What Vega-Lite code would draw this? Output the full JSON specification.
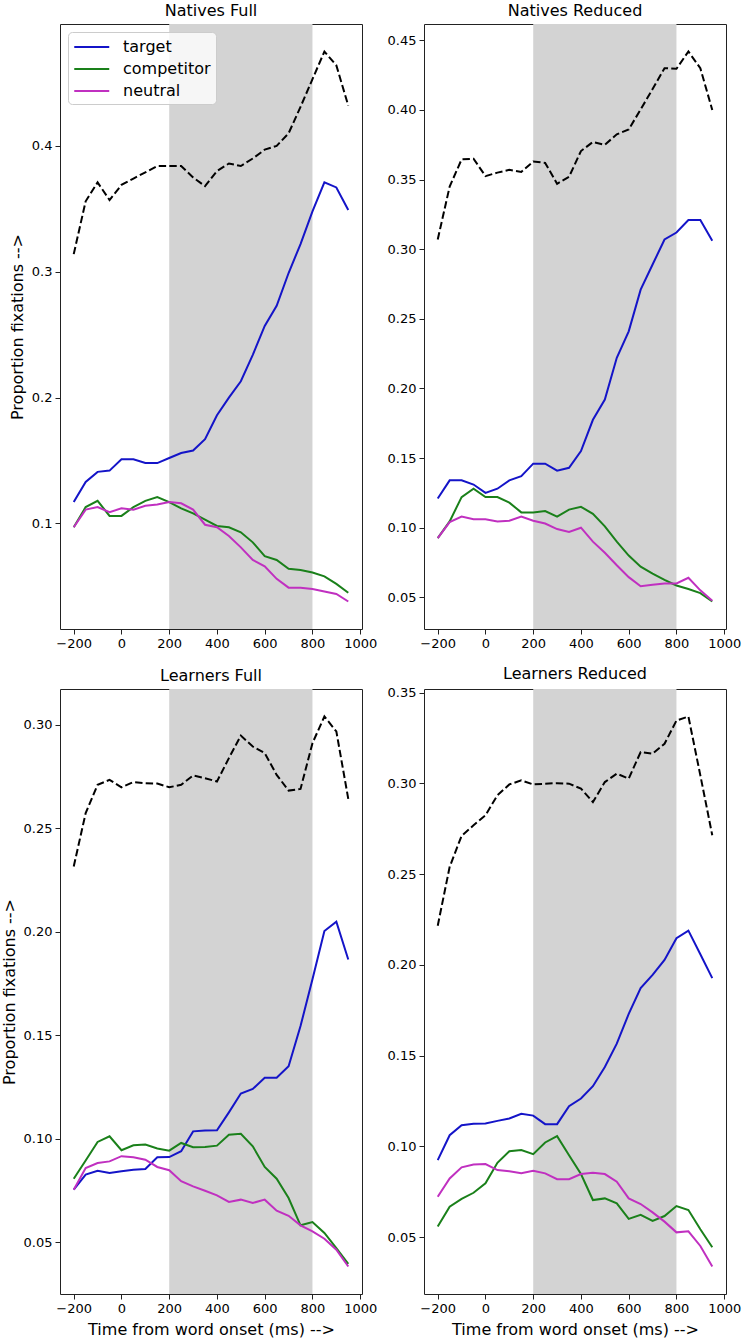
{
  "$schema": "https://vega.github.io/schema/vega-lite/v6.json",
  "background": "white",
  "padding": {"left": 0, "top": 2, "right": 2, "bottom": 2},
  "datasets": {
    "fix": [
      {"panel": "NF", "t": -200, "target": 0.117, "competitor": 0.097, "neutral": 0.097, "total": 0.314},
      {"panel": "NF", "t": -150, "target": 0.133, "competitor": 0.113, "neutral": 0.111, "total": 0.356},
      {"panel": "NF", "t": -100, "target": 0.141, "competitor": 0.118, "neutral": 0.113, "total": 0.371},
      {"panel": "NF", "t": -50, "target": 0.142, "competitor": 0.106, "neutral": 0.109, "total": 0.357},
      {"panel": "NF", "t": 0, "target": 0.151, "competitor": 0.106, "neutral": 0.112, "total": 0.369},
      {"panel": "NF", "t": 50, "target": 0.151, "competitor": 0.113, "neutral": 0.111, "total": 0.374},
      {"panel": "NF", "t": 100, "target": 0.148, "competitor": 0.118, "neutral": 0.114, "total": 0.379},
      {"panel": "NF", "t": 150, "target": 0.148, "competitor": 0.121, "neutral": 0.115, "total": 0.384},
      {"panel": "NF", "t": 200, "target": 0.152, "competitor": 0.117, "neutral": 0.117, "total": 0.384},
      {"panel": "NF", "t": 250, "target": 0.156, "competitor": 0.112, "neutral": 0.116, "total": 0.384},
      {"panel": "NF", "t": 300, "target": 0.158, "competitor": 0.108, "neutral": 0.111, "total": 0.375},
      {"panel": "NF", "t": 350, "target": 0.167, "competitor": 0.103, "neutral": 0.099, "total": 0.368},
      {"panel": "NF", "t": 400, "target": 0.186, "competitor": 0.098, "neutral": 0.097, "total": 0.380},
      {"panel": "NF", "t": 450, "target": 0.200, "competitor": 0.097, "neutral": 0.090, "total": 0.386},
      {"panel": "NF", "t": 500, "target": 0.213, "competitor": 0.093, "neutral": 0.081, "total": 0.384},
      {"panel": "NF", "t": 550, "target": 0.234, "competitor": 0.085, "neutral": 0.071, "total": 0.390},
      {"panel": "NF", "t": 600, "target": 0.257, "competitor": 0.074, "neutral": 0.066, "total": 0.397},
      {"panel": "NF", "t": 650, "target": 0.273, "competitor": 0.071, "neutral": 0.056, "total": 0.400},
      {"panel": "NF", "t": 700, "target": 0.299, "competitor": 0.064, "neutral": 0.049, "total": 0.410},
      {"panel": "NF", "t": 750, "target": 0.322, "competitor": 0.063, "neutral": 0.049, "total": 0.431},
      {"panel": "NF", "t": 800, "target": 0.348, "competitor": 0.061, "neutral": 0.048, "total": 0.453},
      {"panel": "NF", "t": 850, "target": 0.371, "competitor": 0.058, "neutral": 0.046, "total": 0.475},
      {"panel": "NF", "t": 900, "target": 0.367, "competitor": 0.052, "neutral": 0.044, "total": 0.464},
      {"panel": "NF", "t": 950, "target": 0.349, "competitor": 0.045, "neutral": 0.038, "total": 0.432},

      {"panel": "NR", "t": -200, "target": 0.121, "competitor": 0.0925, "neutral": 0.0925, "total": 0.307},
      {"panel": "NR", "t": -150, "target": 0.134, "competitor": 0.1045, "neutral": 0.104, "total": 0.345},
      {"panel": "NR", "t": -100, "target": 0.134, "competitor": 0.122, "neutral": 0.108, "total": 0.3645},
      {"panel": "NR", "t": -50, "target": 0.131, "competitor": 0.128, "neutral": 0.106, "total": 0.365},
      {"panel": "NR", "t": 0, "target": 0.125, "competitor": 0.122, "neutral": 0.106, "total": 0.3525},
      {"panel": "NR", "t": 50, "target": 0.128, "competitor": 0.122, "neutral": 0.1045, "total": 0.355},
      {"panel": "NR", "t": 100, "target": 0.134, "competitor": 0.118, "neutral": 0.105, "total": 0.357},
      {"panel": "NR", "t": 150, "target": 0.137, "competitor": 0.111, "neutral": 0.108, "total": 0.3555},
      {"panel": "NR", "t": 200, "target": 0.146, "competitor": 0.111, "neutral": 0.105, "total": 0.363},
      {"panel": "NR", "t": 250, "target": 0.146, "competitor": 0.112, "neutral": 0.103, "total": 0.362},
      {"panel": "NR", "t": 300, "target": 0.141, "competitor": 0.108, "neutral": 0.099, "total": 0.347},
      {"panel": "NR", "t": 350, "target": 0.143, "competitor": 0.113, "neutral": 0.097, "total": 0.352},
      {"panel": "NR", "t": 400, "target": 0.155, "competitor": 0.115, "neutral": 0.100, "total": 0.3705},
      {"panel": "NR", "t": 450, "target": 0.1775, "competitor": 0.110, "neutral": 0.090, "total": 0.377},
      {"panel": "NR", "t": 500, "target": 0.192, "competitor": 0.101, "neutral": 0.082, "total": 0.375},
      {"panel": "NR", "t": 550, "target": 0.222, "competitor": 0.090, "neutral": 0.073, "total": 0.3825},
      {"panel": "NR", "t": 600, "target": 0.241, "competitor": 0.080, "neutral": 0.0645, "total": 0.386},
      {"panel": "NR", "t": 650, "target": 0.271, "competitor": 0.072, "neutral": 0.058, "total": 0.4004},
      {"panel": "NR", "t": 700, "target": 0.289, "competitor": 0.067, "neutral": 0.059, "total": 0.415},
      {"panel": "NR", "t": 750, "target": 0.307, "competitor": 0.0625, "neutral": 0.060, "total": 0.430},
      {"panel": "NR", "t": 800, "target": 0.312, "competitor": 0.0585, "neutral": 0.060, "total": 0.4296},
      {"panel": "NR", "t": 850, "target": 0.321, "competitor": 0.056, "neutral": 0.064, "total": 0.442},
      {"panel": "NR", "t": 900, "target": 0.321, "competitor": 0.053, "neutral": 0.055, "total": 0.430},
      {"panel": "NR", "t": 950, "target": 0.306, "competitor": 0.047, "neutral": 0.0475, "total": 0.400},

      {"panel": "LF", "t": -200, "target": 0.0753, "competitor": 0.0806, "neutral": 0.0753, "total": 0.2315},
      {"panel": "LF", "t": -150, "target": 0.0826, "competitor": 0.0894, "neutral": 0.0858, "total": 0.2573},
      {"panel": "LF", "t": -100, "target": 0.0845, "competitor": 0.0984, "neutral": 0.0882, "total": 0.271},
      {"panel": "LF", "t": -50, "target": 0.0834, "competitor": 0.1011, "neutral": 0.089, "total": 0.2734},
      {"panel": "LF", "t": 0, "target": 0.0842, "competitor": 0.0944, "neutral": 0.0915, "total": 0.2698},
      {"panel": "LF", "t": 50, "target": 0.085, "competitor": 0.0968, "neutral": 0.091, "total": 0.2723},
      {"panel": "LF", "t": 100, "target": 0.0853, "competitor": 0.0971, "neutral": 0.0898, "total": 0.2718},
      {"panel": "LF", "t": 150, "target": 0.091, "competitor": 0.0952, "neutral": 0.0863, "total": 0.2716},
      {"panel": "LF", "t": 200, "target": 0.0911, "competitor": 0.0942, "neutral": 0.0847, "total": 0.2698},
      {"panel": "LF", "t": 250, "target": 0.0939, "competitor": 0.0979, "neutral": 0.0794, "total": 0.271},
      {"panel": "LF", "t": 300, "target": 0.1035, "competitor": 0.0958, "neutral": 0.0769, "total": 0.2755},
      {"panel": "LF", "t": 350, "target": 0.1039, "competitor": 0.096, "neutral": 0.0748, "total": 0.2742},
      {"panel": "LF", "t": 400, "target": 0.104, "competitor": 0.0966, "neutral": 0.0726, "total": 0.2726},
      {"panel": "LF", "t": 450, "target": 0.1127, "competitor": 0.1019, "neutral": 0.0694, "total": 0.2839},
      {"panel": "LF", "t": 500, "target": 0.1218, "competitor": 0.1023, "neutral": 0.0705, "total": 0.2948},
      {"panel": "LF", "t": 550, "target": 0.124, "competitor": 0.0963, "neutral": 0.0689, "total": 0.2895},
      {"panel": "LF", "t": 600, "target": 0.1294, "competitor": 0.0863, "neutral": 0.0705, "total": 0.2863},
      {"panel": "LF", "t": 650, "target": 0.1294, "competitor": 0.0806, "neutral": 0.0652, "total": 0.2758},
      {"panel": "LF", "t": 700, "target": 0.135, "competitor": 0.0713, "neutral": 0.0627, "total": 0.2682},
      {"panel": "LF", "t": 750, "target": 0.1544, "competitor": 0.0581, "neutral": 0.0581, "total": 0.269},
      {"panel": "LF", "t": 800, "target": 0.177, "competitor": 0.0597, "neutral": 0.0552, "total": 0.2911},
      {"panel": "LF", "t": 850, "target": 0.2003, "competitor": 0.0544, "neutral": 0.0516, "total": 0.304},
      {"panel": "LF", "t": 900, "target": 0.2048, "competitor": 0.0471, "neutral": 0.0463, "total": 0.2968},
      {"panel": "LF", "t": 950, "target": 0.1866, "competitor": 0.0395, "neutral": 0.0382, "total": 0.2642},

      {"panel": "LR", "t": -200, "target": 0.0925, "competitor": 0.0559, "neutral": 0.0723, "total": 0.2216},
      {"panel": "LR", "t": -150, "target": 0.1062, "competitor": 0.0668, "neutral": 0.0824, "total": 0.254},
      {"panel": "LR", "t": -100, "target": 0.1117, "competitor": 0.0711, "neutral": 0.0885, "total": 0.2711},
      {"panel": "LR", "t": -50, "target": 0.1125, "competitor": 0.0745, "neutral": 0.0901, "total": 0.2769},
      {"panel": "LR", "t": 0, "target": 0.1126, "competitor": 0.0797, "neutral": 0.0903, "total": 0.2824},
      {"panel": "LR", "t": 50, "target": 0.1141, "competitor": 0.091, "neutral": 0.087, "total": 0.2934},
      {"panel": "LR", "t": 100, "target": 0.1154, "competitor": 0.0974, "neutral": 0.0864, "total": 0.2994},
      {"panel": "LR", "t": 150, "target": 0.118, "competitor": 0.098, "neutral": 0.0852, "total": 0.3016},
      {"panel": "LR", "t": 200, "target": 0.117, "competitor": 0.0958, "neutral": 0.0866, "total": 0.2994},
      {"panel": "LR", "t": 250, "target": 0.1123, "competitor": 0.1022, "neutral": 0.0852, "total": 0.2998},
      {"panel": "LR", "t": 300, "target": 0.1123, "competitor": 0.1057, "neutral": 0.082, "total": 0.3001},
      {"panel": "LR", "t": 350, "target": 0.1222, "competitor": 0.0952, "neutral": 0.082, "total": 0.2998},
      {"panel": "LR", "t": 400, "target": 0.1264, "competitor": 0.0848, "neutral": 0.0848, "total": 0.2971},
      {"panel": "LR", "t": 450, "target": 0.1332, "competitor": 0.0705, "neutral": 0.0855, "total": 0.2897},
      {"panel": "LR", "t": 500, "target": 0.1438, "competitor": 0.0714, "neutral": 0.0848, "total": 0.3007},
      {"panel": "LR", "t": 550, "target": 0.1566, "competitor": 0.0687, "neutral": 0.0806, "total": 0.3053},
      {"panel": "LR", "t": 600, "target": 0.173, "competitor": 0.0601, "neutral": 0.0714, "total": 0.3026},
      {"panel": "LR", "t": 650, "target": 0.1872, "competitor": 0.0623, "neutral": 0.0683, "total": 0.3172},
      {"panel": "LR", "t": 700, "target": 0.1945, "competitor": 0.059, "neutral": 0.0637, "total": 0.3163},
      {"panel": "LR", "t": 750, "target": 0.2027, "competitor": 0.0617, "neutral": 0.0586, "total": 0.3218},
      {"panel": "LR", "t": 800, "target": 0.2147, "competitor": 0.0672, "neutral": 0.0527, "total": 0.3346},
      {"panel": "LR", "t": 850, "target": 0.2189, "competitor": 0.065, "neutral": 0.0533, "total": 0.3368},
      {"panel": "LR", "t": 900, "target": 0.2059, "competitor": 0.0544, "neutral": 0.0452, "total": 0.3044},
      {"panel": "LR", "t": 950, "target": 0.1927, "competitor": 0.0445, "neutral": 0.0339, "total": 0.2714}
    ],
    "window": [{"start": 200, "end": 800}]
  },
  "config": {
    "font": "DejaVu Sans",
    "view": {"stroke": "#222222", "strokeWidth": 1},
    "title": {"fontSize": 16, "fontWeight": "normal", "color": "#000000", "offset": 5},
    "axis": {
      "domain": false,
      "grid": false,
      "ticks": true,
      "tickColor": "#222222",
      "tickSize": 5,
      "tickWidth": 1,
      "labelFontSize": 13,
      "labelColor": "#000000",
      "labelPadding": 3,
      "labelFlush": false,
      "labelOverlap": false,
      "titleFontSize": 16,
      "titleFontWeight": "normal",
      "titleColor": "#000000",
      "titlePadding": 6
    },
    "legend": {
      "orient": "top-left",
      "offset": 8,
      "title": null,
      "fillColor": "rgba(255,255,255,0.8)",
      "strokeColor": "#cccccc",
      "cornerRadius": 4,
      "padding": 5,
      "labelFontSize": 16,
      "labelColor": "#000000",
      "labelOffset": 30,
      "rowPadding": 4,
      "symbolType": "M-1,0H3",
      "symbolSize": 306,
      "symbolStrokeWidth": 2
    }
  },
  "spacing": 14,
  "resolve": {"scale": {"x": "independent", "y": "independent", "color": "independent"}, "legend": {"color": "independent"}},
  "vconcat": [
    {
      "spacing": 8,
      "resolve": {"scale": {"x": "independent", "y": "independent", "color": "independent"}, "legend": {"color": "independent"}},
      "hconcat": [
        {
          "title": "Natives Full",
          "width": 302,
          "height": 605,
          "layer": [
            {
              "data": {"name": "window"},
              "mark": {"type": "rect", "color": "#d3d3d3"},
              "encoding": {
                "x": {"field": "start", "type": "quantitative", "scale": {"domain": [-257.5, 1007.5], "nice": false, "zero": false}, "axis": {"values": [-200, 0, 200, 400, 600, 800, 1000], "format": "d", "title": null}},
                "x2": {"field": "end"}
              }
            },
            {
              "data": {"name": "fix"},
              "transform": [{"filter": "datum.panel === 'NF'"}, {"fold": ["target", "competitor", "neutral"], "as": ["series", "p"]}],
              "mark": {"type": "line", "strokeWidth": 2},
              "encoding": {
                "x": {"field": "t", "type": "quantitative"},
                "y": {"field": "p", "type": "quantitative", "scale": {"domain": [0.01615, 0.49685], "nice": false, "zero": false}, "axis": {"values": [0.1, 0.2, 0.3, 0.4], "format": ".1f", "title": "Proportion fixations -->"}},
                "color": {"field": "series", "type": "nominal", "sort": ["target", "competitor", "neutral"], "scale": {"domain": ["target", "competitor", "neutral"], "range": ["#1414c8", "#1a801a", "#c030c0"]}}
              }
            },
            {
              "data": {"name": "fix"},
              "transform": [{"filter": "datum.panel === 'NF'"}],
              "mark": {"type": "line", "strokeWidth": 2, "color": "#000000", "strokeDash": [7.4, 3.2]},
              "encoding": {
                "x": {"field": "t", "type": "quantitative"},
                "y": {"field": "total", "type": "quantitative"}
              }
            }
          ]
        },
        {
          "title": "Natives Reduced",
          "width": 302,
          "height": 605,
          "layer": [
            {
              "data": {"name": "window"},
              "mark": {"type": "rect", "color": "#d3d3d3"},
              "encoding": {
                "x": {"field": "start", "type": "quantitative", "scale": {"domain": [-257.5, 1007.5], "nice": false, "zero": false}, "axis": {"values": [-200, 0, 200, 400, 600, 800, 1000], "format": "d", "title": null}},
                "x2": {"field": "end"}
              }
            },
            {
              "data": {"name": "fix"},
              "transform": [{"filter": "datum.panel === 'NR'"}, {"fold": ["target", "competitor", "neutral"], "as": ["series", "p"]}],
              "mark": {"type": "line", "strokeWidth": 2},
              "encoding": {
                "x": {"field": "t", "type": "quantitative"},
                "y": {"field": "p", "type": "quantitative", "scale": {"domain": [0.02725, 0.46175], "nice": false, "zero": false}, "axis": {"values": [0.05, 0.1, 0.15, 0.2, 0.25, 0.3, 0.35, 0.4, 0.45], "format": ".2f", "title": null}},
                "color": {"field": "series", "type": "nominal", "legend": null, "scale": {"domain": ["target", "competitor", "neutral"], "range": ["#1414c8", "#1a801a", "#c030c0"]}}
              }
            },
            {
              "data": {"name": "fix"},
              "transform": [{"filter": "datum.panel === 'NR'"}],
              "mark": {"type": "line", "strokeWidth": 2, "color": "#000000", "strokeDash": [7.4, 3.2]},
              "encoding": {
                "x": {"field": "t", "type": "quantitative"},
                "y": {"field": "total", "type": "quantitative"}
              }
            }
          ]
        }
      ]
    },
    {
      "spacing": 8,
      "resolve": {"scale": {"x": "independent", "y": "independent", "color": "independent"}, "legend": {"color": "independent"}},
      "hconcat": [
        {
          "title": "Learners Full",
          "width": 302,
          "height": 605,
          "layer": [
            {
              "data": {"name": "window"},
              "mark": {"type": "rect", "color": "#d3d3d3"},
              "encoding": {
                "x": {"field": "start", "type": "quantitative", "scale": {"domain": [-257.5, 1007.5], "nice": false, "zero": false}, "axis": {"values": [-200, 0, 200, 400, 600, 800, 1000], "format": "d", "title": "Time from word onset (ms) -->"}},
                "x2": {"field": "end"}
              }
            },
            {
              "data": {"name": "fix"},
              "transform": [{"filter": "datum.panel === 'LF'"}, {"fold": ["target", "competitor", "neutral"], "as": ["series", "p"]}],
              "mark": {"type": "line", "strokeWidth": 2},
              "encoding": {
                "x": {"field": "t", "type": "quantitative"},
                "y": {"field": "p", "type": "quantitative", "scale": {"domain": [0.0249, 0.3173], "nice": false, "zero": false}, "axis": {"values": [0.05, 0.1, 0.15, 0.2, 0.25, 0.3], "format": ".2f", "title": "Proportion fixations -->"}},
                "color": {"field": "series", "type": "nominal", "legend": null, "scale": {"domain": ["target", "competitor", "neutral"], "range": ["#1414c8", "#1a801a", "#c030c0"]}}
              }
            },
            {
              "data": {"name": "fix"},
              "transform": [{"filter": "datum.panel === 'LF'"}],
              "mark": {"type": "line", "strokeWidth": 2, "color": "#000000", "strokeDash": [7.4, 3.2]},
              "encoding": {
                "x": {"field": "t", "type": "quantitative"},
                "y": {"field": "total", "type": "quantitative"}
              }
            }
          ]
        },
        {
          "title": "Learners Reduced",
          "width": 302,
          "height": 605,
          "layer": [
            {
              "data": {"name": "window"},
              "mark": {"type": "rect", "color": "#d3d3d3"},
              "encoding": {
                "x": {"field": "start", "type": "quantitative", "scale": {"domain": [-257.5, 1007.5], "nice": false, "zero": false}, "axis": {"values": [-200, 0, 200, 400, 600, 800, 1000], "format": "d", "title": "Time from word onset (ms) -->"}},
                "x2": {"field": "end"}
              }
            },
            {
              "data": {"name": "fix"},
              "transform": [{"filter": "datum.panel === 'LR'"}, {"fold": ["target", "competitor", "neutral"], "as": ["series", "p"]}],
              "mark": {"type": "line", "strokeWidth": 2},
              "encoding": {
                "x": {"field": "t", "type": "quantitative"},
                "y": {"field": "p", "type": "quantitative", "scale": {"domain": [0.01875, 0.35195], "nice": false, "zero": false}, "axis": {"values": [0.05, 0.1, 0.15, 0.2, 0.25, 0.3, 0.35], "format": ".2f", "title": null}},
                "color": {"field": "series", "type": "nominal", "legend": null, "scale": {"domain": ["target", "competitor", "neutral"], "range": ["#1414c8", "#1a801a", "#c030c0"]}}
              }
            },
            {
              "data": {"name": "fix"},
              "transform": [{"filter": "datum.panel === 'LR'"}],
              "mark": {"type": "line", "strokeWidth": 2, "color": "#000000", "strokeDash": [7.4, 3.2]},
              "encoding": {
                "x": {"field": "t", "type": "quantitative"},
                "y": {"field": "total", "type": "quantitative"}
              }
            }
          ]
        }
      ]
    }
  ]
}
